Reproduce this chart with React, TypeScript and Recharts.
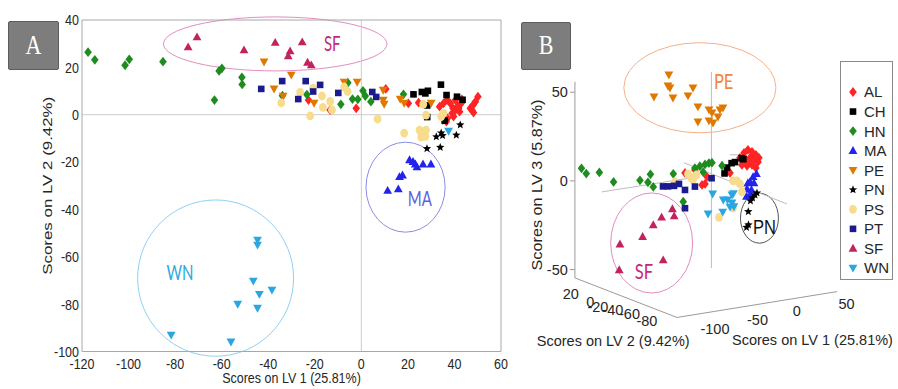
import React from 'react';
import {
  ScatterChart,
  Scatter,
  XAxis,
  YAxis,
  ReferenceLine,
  ReferenceArea,
  ReferenceDot,
  Legend,
} from 'recharts';

// ---------------- Panel A data (LV1, LV2 scores) ----------------
const AL_A = [[-22.7, 6.2], [-13.4, 2.0], [-2.2, 2.7], [10.5, 10.9], [20.2, 4.8], [24.6, 5.1], [33.6, 3.4], [35.3, 4.8], [36.8, 6.2], [38.2, 4.8], [39.4, 2.7], [40.4, 6.2], [41.4, 3.7], [42.2, 1.3], [42.9, 4.8], [39.0, 0.6], [39.6, -0.8], [36.5, -2.9], [37.0, -1.5], [46.8, 2.7], [48.0, 4.1], [49.0, 5.5], [50.1, 7.6], [48.2, 0.9], [40.4, 2.0], [41.8, 2.7], [43.2, 6.5], [47.5, 2.0]];
const CH_A = [[22.4, 8.6], [26.0, 9.6], [27.5, 9.0], [28.6, 10.1], [34.2, 12.7], [36.6, 8.3], [41.1, 7.6], [43.5, 6.3], [28.3, 3.9], [35.8, -2.5], [28.3, -1.0]];
const HN_A = [[-117.4, 26.4], [-114.5, 23.2], [-101.5, 20.9], [-99.7, 23.4], [-85.2, 22.4], [-63.1, 6.2], [-61.1, 18.5], [-59.9, 19.6], [-51.3, 15.8], [-51.2, 12.8], [-33.9, 8.0], [-23.4, 8.5], [-8.8, 4.4], [-5.8, 13.5], [-3.8, 6.6], [-1.5, 6.5], [0.7, 10.1], [1.7, 7.9], [4.1, 5.5], [18.1, 8.6]];
const MA_A = [[20.7, -19.1], [22.2, -19.8], [23.2, -20.9], [23.9, -22.1], [26.5, -20.9], [29.9, -20.9], [16.4, -26.2], [17.7, -25.5], [15.9, -31.4], [11.3, -32.0]];
const PE_A = [[-41.8, 22.3], [-30.1, 16.8], [-37.5, 10.9], [-33.6, 7.9], [-20.3, 4.9], [-7.4, 13.8], [-1.8, 13.8], [9.4, 10.4], [9.4, 6.2], [9.8, 4.5], [16.7, 6.6], [18.4, 4.9], [30.0, 4.9]];
const PN_A = [[42.5, -4.3], [32.2, -9.3], [34.3, -7.7], [34.9, -8.8], [40.8, -8.6], [28.2, -14.3], [33.9, -13.8], [36.0, -2.7]];
const PS_A = [[-34.4, 5.0], [-26.3, 9.4], [-20.8, 11.2], [-16.9, 7.9], [-16.5, 3.1], [-13.4, 5.6], [-12.6, 2.0], [-22.0, -0.5], [-7.4, 11.7], [-5.9, 9.8], [7.0, -1.8], [18.4, -7.8], [25.0, -6.5], [27.8, -6.5], [25.7, -9.5], [27.5, -9.2], [26.6, 4.4], [27.8, -0.2], [34.3, -0.8], [35.3, 0.6]];
const PT_A = [[-43.0, 10.9], [-34.0, 14.2], [-27.1, 6.6], [-23.9, 14.2], [-20.7, 9.8], [-17.7, 12.6], [-9.9, 9.2], [4.7, 9.6], [6.4, 7.5]];
const SF_A = [[-74.4, 28.6], [-70.6, 32.8], [-50.4, 27.3], [-37.0, 30.5], [-30.6, 26.9], [-31.4, 24.8], [-25.4, 30.7], [-23.1, 22.1], [-21.5, 21.0]];
const WN_A = [[-44.6, -52.9], [-44.6, -55.0], [-46.4, -70.2], [-43.8, -75.8], [-38.4, -74.0], [-44.6, -81.7], [-53.1, -80.0], [-81.7, -93.0], [-56.0, -95.9], [37.5, -6.9]];

// ---------------- Panel B data (projected 3-D view, LV3 units) ----------------
const AL_B = [[62.1, 4.5], [67.7, 6.2], [73.4, -1.7], [71.7, -2.3], [74.5, 2.3], [87.5, 4.5], [93.1, 13.0], [95.4, 15.8], [97.6, 17.5], [99.9, 16.4], [102.1, 14.7], [95.9, 11.9], [98.8, 13.0], [101.0, 11.9], [103.3, 10.7], [94.2, 9.0], [97.1, 8.5], [99.9, 9.0], [102.1, 7.3], [98.2, 10.2], [95.4, 13.5], [100.5, 14.1], [93.7, 11.9], [103.8, 13.0]];
const CH_B = [[84.4, 4.2], [88.4, 10.0], [90.3, 10.6], [94.1, 12.8], [85.8, 7.5], [95.0, 12.2]];
const HN_B = [[3.7, 7.1], [6.4, 4.1], [13.8, 4.8], [21.8, -0.6], [36.7, 0.3], [41.2, -0.8], [42.6, 3.7], [44.2, -3.4], [55.5, 4.0], [67.7, 7.2], [70.5, 8.3], [73.4, 9.3], [75.6, 10.0], [77.3, 10.3], [72.4, 4.9], [83.0, 8.6], [61.1, -11.7]];
const MA_B = [[100.5, 2.3], [102.4, 4.0], [98.8, -0.6], [101.0, -1.1], [97.1, -4.5], [99.6, -5.1], [96.8, -8.7], [98.8, -7.9], [97.6, -1.1]];
const PE_B = [[53.0, 59.8], [52.5, 53.6], [53.6, 52.5], [44.6, 47.4], [55.3, 46.8], [63.8, 48.0], [66.6, 52.5], [69.4, 41.8], [69.4, 33.3], [75.6, 40.1], [75.6, 33.9], [77.3, 38.4], [77.9, 32.7], [81.8, 40.1], [83.5, 41.2], [80.7, 36.1]];
const PN_B = [[101.6, -7.9], [100.2, -9.6], [99.0, -11.3], [97.8, -17.3], [96.8, -26.2], [97.9, -24.8], [102.7, -6.8]];
const PS_B = [[56.4, -0.6], [63.8, 4.0], [65.5, 1.7], [68.6, 3.4], [66.6, 0.6], [89.2, 0.0], [91.4, 0.0], [93.1, -1.7], [94.2, -6.2], [81.3, -20.6], [89.2, -15.2]];
const PT_B = [[49.7, -3.1], [52.5, -3.1], [55.9, -2.8], [58.7, -1.7], [62.1, -5.1], [67.7, -3.2], [77.1, 1.5], [62.1, -15.4]];
const SF_B = [[55.0, -15.8], [56.0, -19.8], [48.9, -20.5], [44.2, -24.8], [38.2, -31.4], [25.4, -35.7], [49.8, -44.6], [25.0, -50.2]];
const WN_B = [[77.7, -7.3], [83.7, -10.7], [86.1, -10.7], [88.6, -7.9], [89.4, -7.1], [88.6, -12.4], [89.7, -14.5], [75.1, -18.6], [83.4, -17.5], [87.5, -14.7]];

// ---------------- categories, ticks, labels ----------------
const GROUPS = ['AL', 'CH', 'HN', 'MA', 'PE', 'PN', 'PS', 'PT', 'SF', 'WN'];
const DATA_A: Record<string, number[][]> = { AL: AL_A, CH: CH_A, HN: HN_A, MA: MA_A, PE: PE_A, PN: PN_A, PS: PS_A, PT: PT_A, SF: SF_A, WN: WN_A };
const DATA_B: Record<string, number[][]> = { AL: AL_B, CH: CH_B, HN: HN_B, MA: MA_B, PE: PE_B, PN: PN_B, PS: PS_B, PT: PT_B, SF: SF_B, WN: WN_B };

const X_TICKS_A = [-120, -100, -80, -60, -40, -20, 0, 20, 40, 60];
const Y_TICKS_A = [-100, -80, -60, -40, -20, 0, 20, 40];
const X_LABEL_A = 'Scores on LV 1 (25.81%)';
const Y_LABEL_A = 'Scores on LV 2 (9.42%)';

const Z_TICKS_B = ['50', '0', '-50'];
const LV2_TICKS_B = ['20', '0', '-20', '-40', '-60', '-80'];
const LV1_TICKS_B = ['-100', '-50', '0', '50'];
const LABEL_B_LV1 = 'Scores on LV 1 (25.81%)';
const LABEL_B_LV2 = 'Scores on LV 2 (9.42%)';
const LABEL_B_LV3 = 'Scores on LV 3 (5.87%)';

// group annotations (position in data units of each panel)
const CLUSTERS_A = [
  { name: 'SF', x1: -85, x2: 11, y1: 18.5, y2: 41.3, tx: -12.5, ty: 30.3 },
  { name: 'MA', x1: 2, x2: 36, y1: -49.6, y2: -11.6, tx: 25.1, ty: -35.2 },
  { name: 'WN', x1: -96.1, x2: -29.1, y1: -102, y2: -36, tx: -77.9, ty: -66.8 },
];
const CLUSTERS_B = [
  { name: 'PE', x1: 27.6, x2: 113.4, y1: 27.1, y2: 77.9, tx: 83.9, ty: 56.0 },
  { name: 'SF', x1: 20.2, x2: 66.4, y1: -63.2, y2: -6.8, tx: 38.9, ty: -51.4 },
  { name: 'PN', x1: 93.4, x2: 114.8, y1: -35.1, y2: -6.9, tx: 106.9, ty: -26.0 },
];

// ---------------- styles ----------------
const COLORS: Record<string, string> = {
  AL: '#ff2424', CH: '#000000', HN: '#1f8c1f', MA: '#2323ee', PE: '#e07800',
  PN: '#000000', PS: '#f8dc8e', PT: '#1b1b8f', SF: '#c2225e', WN: '#2aa6e0',
};
const KIND: Record<string, string> = {
  AL: 'diamond', CH: 'square', HN: 'diamond', MA: 'tri', PE: 'trid',
  PN: 'star', PS: 'circle', PT: 'square', SF: 'tri', WN: 'trid',
};
const ELLIPSE_STROKE: Record<string, string> = { SF: '#e48cc2', MA: '#8c8ce6', WN: '#8fd2f0', PE: '#f7b08a', PN: '#555555' };
const LABEL_FILL: Record<string, string> = { SF: '#c4287a', MA: '#5e5ede', WN: '#2aa8e2', PE: '#f0873c', PN: '#111111' };

const SANS = '"Liberation Sans", Arial, Helvetica, sans-serif';
const LABEL_FONT = 'Lato, "Open Sans", sans-serif';
const AXIS_GRAY = '#a8a8a8';
const TEXT = '#262626';

const toPts = (a: number[][]) => a.map(([x, y]) => ({ x, y }));

function starPoints(cx: number, cy: number, R: number, r: number) {
  const out: string[] = [];
  for (let i = 0; i < 10; i++) {
    const a = -Math.PI / 2 + (i * Math.PI) / 5;
    const rad = i % 2 === 0 ? R : r;
    out.push(`${cx + rad * Math.cos(a)},${cy + rad * Math.sin(a)}`);
  }
  return out.join(' ');
}

function Marker({ kind, cx, cy, color }: { kind: string; cx: number; cy: number; color: string }) {
  if (cx == null || cy == null || isNaN(cx) || isNaN(cy)) return <g />;
  switch (kind) {
    case 'diamond':
      return <polygon points={`${cx},${cy - 4.9} ${cx + 3.8},${cy} ${cx},${cy + 4.9} ${cx - 3.8},${cy}`} fill={color} />;
    case 'square':
      return <rect x={cx - 3.3} y={cy - 3.3} width={6.6} height={6.6} fill={color} />;
    case 'tri':
      return <polygon points={`${cx},${cy - 4.6} ${cx + 4.4},${cy + 3.3} ${cx - 4.4},${cy + 3.3}`} fill={color} />;
    case 'trid':
      return <polygon points={`${cx - 4.4},${cy - 3.3} ${cx + 4.4},${cy - 3.3} ${cx},${cy + 4.6}`} fill={color} />;
    case 'star':
      return <polygon points={starPoints(cx, cy, 4.4, 1.9)} fill={color} />;
    default:
      return <ellipse cx={cx} cy={cy} rx={3.9} ry={4.4} fill={color} />;
  }
}

const ellipseShape = (stroke: string) => (p: any) => {
  const { x, y, width, height } = p;
  const w = Math.abs(width);
  const h = Math.abs(height);
  const left = width < 0 ? x + width : x;
  const top = height < 0 ? y + height : y;
  return <ellipse cx={left + w / 2} cy={top + h / 2} rx={w / 2} ry={h / 2} fill="none" stroke={stroke} strokeWidth={1} />;
};

const textShape = (label: string, opts: { size: number; fill: string; family: string; anchor?: string; sy?: number; rotate?: number; sx?: number }) => (p: any) => {
  const { cx, cy } = p;
  if (cx == null || cy == null) return <g />;
  const sy = opts.sy ?? 1;
  const sx = opts.sx ?? 1;
  const rot = opts.rotate ? ` rotate(${opts.rotate})` : '';
  return (
    <text
      transform={`translate(${cx},${cy})${rot} scale(${sx},${sy})`}
      x={0}
      y={0}
      dy="0.36em"
      textAnchor={(opts.anchor as any) || 'middle'}
      fontSize={opts.size}
      fill={opts.fill}
      fontFamily={opts.family}
    >
      {label}
    </text>
  );
};

// ---------------- Panel A axis pieces ----------------
const xTickA = (p: any) => (
  <text transform={`translate(${p.x},${p.y}) scale(1,1.2)`} x={0} y={0} dy="0.71em" textAnchor="middle" fontSize={12.5} fill={TEXT} fontFamily={SANS}>
    {p.payload.value}
  </text>
);
const yTickA = (p: any) => (
  <text transform={`translate(${p.x},${p.y}) scale(1,1.2)`} x={0} y={0} dy="0.36em" textAnchor="end" fontSize={12.5} fill={TEXT} fontFamily={SANS}>
    {p.payload.value}
  </text>
);
const xLabelA = (p: any) => {
  const vb = p.viewBox || {};
  return (
    <text transform={`translate(${vb.x + vb.width / 2},${vb.y + vb.height - 4}) scale(1,1.2)`} x={0} y={0} textAnchor="middle" fontSize={12.5} fill={TEXT} fontFamily={SANS}>
      {X_LABEL_A}
    </text>
  );
};
const yLabelA = (p: any) => {
  const vb = p.viewBox || {};
  return (
    <text transform={`translate(${vb.x + 15},${vb.y + vb.height / 2}) rotate(-90) scale(1.3,1)`} x={0} y={0} dy="0.36em" textAnchor="middle" fontSize={13} fill={TEXT} fontFamily={SANS}>
      {Y_LABEL_A}
    </text>
  );
};

function ChartA() {
  return (
    <ScatterChart width={510} height={389} margin={{ top: 20, right: 9, bottom: 2.5, left: 32 }}>
      <XAxis
        xAxisId="x" type="number" dataKey="x" domain={[-120, 60]} ticks={X_TICKS_A} allowDataOverflow interval={0}
        height={35} tickSize={0} tickMargin={6.5} tickLine={false} axisLine={{ stroke: AXIS_GRAY }} tick={xTickA}
        label={{ content: xLabelA }}
      />
      <YAxis
        yAxisId="y" type="number" dataKey="y" domain={[-100, 40]} ticks={Y_TICKS_A} allowDataOverflow interval={0}
        width={50} tickSize={0} tickMargin={3} tickLine={false} axisLine={{ stroke: AXIS_GRAY }} tick={yTickA}
        label={{ content: yLabelA }}
      />
      <XAxis xAxisId="top" orientation="top" mirror type="number" domain={[-120, 60]} ticks={X_TICKS_A} allowDataOverflow interval={0} tick={false} tickSize={4} stroke={AXIS_GRAY} />
      <XAxis xAxisId="bin" orientation="bottom" mirror type="number" domain={[-120, 60]} ticks={X_TICKS_A} allowDataOverflow interval={0} tick={false} tickSize={4} axisLine={false} stroke={AXIS_GRAY} />
      <YAxis yAxisId="lin" orientation="left" mirror type="number" domain={[-100, 40]} ticks={Y_TICKS_A} allowDataOverflow interval={0} tick={false} tickSize={4} axisLine={false} stroke={AXIS_GRAY} />
      <YAxis yAxisId="right" orientation="right" mirror type="number" domain={[-100, 40]} ticks={Y_TICKS_A} allowDataOverflow interval={0} tick={false} tickSize={4} stroke={AXIS_GRAY} />

      <ReferenceLine xAxisId="x" yAxisId="y" x={0} stroke="#cccccc" strokeWidth={1} />
      <ReferenceLine xAxisId="x" yAxisId="y" y={0} stroke="#cccccc" strokeWidth={1} />

      {CLUSTERS_A.map((c) => (
        <ReferenceArea
          key={'ea' + c.name} xAxisId="x" yAxisId="y" x1={c.x1} x2={c.x2} y1={c.y1} y2={c.y2}
          ifOverflow="visible" shape={ellipseShape(ELLIPSE_STROKE[c.name])}
        />
      ))}

      {GROUPS.map((g) => (
        <Scatter
          key={'a' + g} name={g} data={toPts(DATA_A[g])} xAxisId="x" yAxisId="y" fill={COLORS[g]} isAnimationActive={false}
          shape={(p: any) => <Marker kind={KIND[g]} cx={p.cx} cy={p.cy} color={COLORS[g]} />}
        />
      ))}

      {CLUSTERS_A.map((c) => (
        <ReferenceDot
          key={'ta' + c.name} xAxisId="x" yAxisId="y" x={c.tx} y={c.ty} ifOverflow="visible"
          shape={textShape(c.name, { size: 15, fill: LABEL_FILL[c.name], family: LABEL_FONT, sy: 1.4 })}
        />
      ))}
    </ScatterChart>
  );
}

// ---------------- Panel B ----------------
const LegendB = (props: any) => {
  const payload = props.payload || [];
  return (
    <svg width={53} height={219} style={{ display: 'block' }}>
      <rect x={0.5} y={0.5} width={52} height={218} fill="#ffffff" stroke="#8a8a8a" />
      {payload.map((e: any, i: number) => {
        const cy = 31 + i * 19.55;
        return (
          <g key={e.value}>
            <Marker kind={KIND[e.value]} cx={13} cy={cy} color={e.color} />
            <text x={24} y={cy} dy="0.36em" fontSize={15} fill={TEXT} fontFamily={SANS}>
              {e.value}
            </text>
          </g>
        );
      })}
    </svg>
  );
};

// layout of the 3-D box (projected units)
const B_AXIS_SEGMENTS = [
  [[0, 55.9], [0, -54.7]],
  [[0, -54.7], [57.6, -77.0]],
  [[57.6, -77.0], [147.9, -62.4]],
];
const B_GUIDE_SEGMENTS = [
  [[77.0, 61.5], [77.0, -49.1]],
  [[15.2, -6.2], [70.5, 2.5]],
  [[87.5, 14.7], [94.2, 14.7]],
  [[61.5, 10.2], [119.6, -13.0]],
];
const Z_TICK_POS = [50, 0, -50];
const LV2_TICK_POS = [[-2.3, -63.8], [8.7, -68.1], [13.0, -70.9], [21.4, -72.8], [30.8, -75.0], [40.6, -79.0]];
const LV1_TICK_POS = [[79.0, -83.5], [103.0, -78.4], [125.1, -73.4], [153.2, -69.0]];

function ChartB() {
  const tickStyle = { size: 14.5, fill: TEXT, family: SANS };
  return (
    <ScatterChart width={390} height={337} margin={{ top: 0, right: 0, bottom: 0, left: 0 }}>
      <XAxis type="number" dataKey="x" domain={[-40, 180]} allowDataOverflow hide />
      <YAxis type="number" dataKey="y" domain={[-110, 80]} allowDataOverflow hide />

      {B_GUIDE_SEGMENTS.map((s, i) => (
        <ReferenceLine key={'g' + i} segment={[{ x: s[0][0], y: s[0][1] }, { x: s[1][0], y: s[1][1] }]} stroke="#bdbdbd" strokeWidth={1} ifOverflow="visible" />
      ))}
      {B_AXIS_SEGMENTS.map((s, i) => (
        <ReferenceLine key={'s' + i} segment={[{ x: s[0][0], y: s[0][1] }, { x: s[1][0], y: s[1][1] }]} stroke="#9a9a9a" strokeWidth={1} ifOverflow="visible" />
      ))}
      {Z_TICK_POS.map((v) => (
        <ReferenceLine key={'zt' + v} segment={[{ x: -2.8, y: v }, { x: 0, y: v }]} stroke="#9a9a9a" strokeWidth={1} ifOverflow="visible" />
      ))}

      {CLUSTERS_B.map((c) => (
        <ReferenceArea key={'eb' + c.name} x1={c.x1} x2={c.x2} y1={c.y1} y2={c.y2} ifOverflow="visible" shape={ellipseShape(ELLIPSE_STROKE[c.name])} />
      ))}

      {GROUPS.map((g) => (
        <Scatter
          key={'b' + g} name={g} data={toPts(DATA_B[g])} fill={COLORS[g]} isAnimationActive={false}
          shape={(p: any) => <Marker kind={KIND[g]} cx={p.cx} cy={p.cy} color={COLORS[g]} />}
        />
      ))}

      {CLUSTERS_B.map((c) => (
        <ReferenceDot
          key={'tb' + c.name} x={c.tx} y={c.ty} ifOverflow="visible"
          shape={textShape(c.name, { size: 16.5, fill: LABEL_FILL[c.name], family: c.name === 'PN' ? SANS : LABEL_FONT, sy: 1.25 })}
        />
      ))}

      {Z_TICKS_B.map((t, i) => (
        <ReferenceDot key={'zl' + t} x={-4} y={Z_TICK_POS[i]} ifOverflow="visible" shape={textShape(t, { ...tickStyle, anchor: 'end' })} />
      ))}
      {LV2_TICKS_B.map((t, i) => (
        <ReferenceDot key={'l2' + i} x={LV2_TICK_POS[i][0]} y={LV2_TICK_POS[i][1]} ifOverflow="visible" shape={textShape(t, tickStyle)} />
      ))}
      {LV1_TICKS_B.map((t, i) => (
        <ReferenceDot key={'l1' + i} x={LV1_TICK_POS[i][0]} y={LV1_TICK_POS[i][1]} ifOverflow="visible" shape={textShape(t, tickStyle)} />
      ))}
      <ReferenceDot x={21.6} y={-90.3} ifOverflow="visible" shape={textShape(LABEL_B_LV2, tickStyle)} />
      <ReferenceDot x={134.0} y={-89.3} ifOverflow="visible" shape={textShape(LABEL_B_LV1, tickStyle)} />
      <ReferenceDot x={-21.4} y={-2.3} ifOverflow="visible" shape={textShape(LABEL_B_LV3, { ...tickStyle, rotate: -90, sx: 1.12 })} />

      <Legend
        layout="vertical" align="center" verticalAlign="middle" content={LegendB}
        wrapperStyle={{ left: 336, top: 22, width: 53, height: 219, margin: 0, padding: 0 }}
      />
    </ScatterChart>
  );
}

function Badge({ left, top, w, h, letter }: { left: number; top: number; w: number; h: number; letter: string }) {
  return (
    <div
      style={{
        position: 'absolute', left, top, width: w, height: h, boxSizing: 'border-box',
        background: '#7d7d7d', border: '1px solid #5c5c5c', borderRadius: 2,
        display: 'flex', alignItems: 'center', justifyContent: 'center',
        color: '#ffffff', fontFamily: '"Liberation Serif", "DejaVu Serif", serif', fontSize: 22,
      }}
    >
      <span style={{ display: 'inline-block', transform: 'scaleY(1.2)' }}>{letter}</span>
    </div>
  );
}

export default function App() {
  return (
    <div style={{ position: 'absolute', left: 0, top: 0, width: 898, height: 389, background: '#ffffff', overflow: 'hidden' }}>
      <div style={{ position: 'absolute', left: 0, top: 0 }}>
        <ChartA />
      </div>
      <div style={{ position: 'absolute', left: 504, top: 39 }}>
        <ChartB />
      </div>
      <Badge left={8} top={21} w={51} h={49} letter="A" />
      <Badge left={521} top={22} w={50} h={48} letter="B" />
    </div>
  );
}
